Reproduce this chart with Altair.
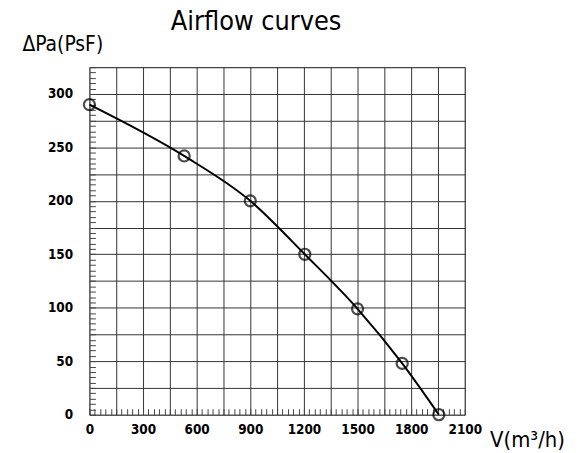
import altair as alt
import pandas as pd

# Data
flow = [0, 530, 900, 1205, 1500, 1750, 1955]      # V (m3/h)
pressure = [290, 242, 200, 150, 99, 48, 0]         # delta Pa

x_grid = list(range(0, 2101, 150))
x_minor = list(range(0, 2101, 30))
y_grid = list(range(0, 326, 25))
y_minor = list(range(0, 326, 5))

df = pd.DataFrame({"flow": flow, "pressure": pressure})

FONT = "DejaVu Sans Condensed, DejaVu Sans"

xs = alt.Scale(domain=[0, 2100], nice=False)
ys = alt.Scale(domain=[0, 325], nice=False)

x_main = alt.X(
    "flow:Q", scale=xs,
    axis=alt.Axis(
        values=x_grid, grid=True, ticks=False, domain=False,
        labelExpr="datum.value % 300 === 0 ? datum.label : ''",
        format="d", labelFont=FONT, labelFontWeight="bold", labelFontSize=13.5,
        labelColor="black", labelPadding=8, gridColor="#333", gridWidth=1,
        title="V(m³/h)", titleFont=FONT, titleFontWeight="normal", titleFontSize=22,
        titleAngle=0, titleAlign="left", titleBaseline="middle",
        titleX=403, titleY=25, labelFlush=False,
    ),
)
y_main = alt.Y(
    "pressure:Q", scale=ys,
    axis=alt.Axis(
        values=y_grid, grid=True, ticks=False, domain=False,
        labelExpr="datum.value % 50 === 0 ? datum.label : ''",
        format="d", labelFont=FONT, labelFontWeight="bold", labelFontSize=13.5,
        labelColor="black", labelPadding=17, gridColor="#333", gridWidth=1,
        title="ΔPa(PsF)", titleFont=FONT, titleFontWeight="normal", titleFontSize=21,
        titleAngle=0, titleAlign="left", titleBaseline="top",
        titleX=-68, titleY=-34, labelFlush=False,
    ),
)

base = alt.Chart(df)

line = base.mark_line(color="black", strokeWidth=2, interpolate="monotone").encode(
    x=x_main, y=y_main
)
pts = base.mark_point(shape="circle", filled=False, color="black", strokeWidth=2.2, size=125).encode(
    x=alt.X("flow:Q", scale=xs, axis=None), y=alt.Y("pressure:Q", scale=ys, axis=None)
)

minor = base.mark_point(opacity=0).encode(
    x=alt.X("flow:Q", scale=xs, axis=alt.Axis(
        values=x_minor, orient="bottom", grid=False, labels=False, domain=False,
        ticks=True, tickSize=6, offset=-6, tickColor="#444", title=None)),
    y=alt.Y("pressure:Q", scale=ys, axis=alt.Axis(
        values=y_minor, orient="left", grid=False, labels=False, domain=False,
        ticks=True, tickSize=6, offset=-6, tickColor="#444", title=None)),
)

chart = (
    alt.layer(line, minor, pts)
    .resolve_axis(x="independent", y="independent")
    .properties(
        width=378, height=350,
        autosize=alt.AutoSizeParams(type="none"),
        padding={"left": 82, "top": 58, "right": 110, "bottom": 40},
        title=alt.TitleParams(
            "Airflow curves", font=FONT, fontSize=27, fontWeight="normal",
            color="black", anchor="start", frame="group", dx=82, offset=-3,
        ),
    )
    .configure_view(stroke="#888", strokeWidth=1)
)

chart.save("out.html", embed_options={"renderer": "svg", "actions": False})
